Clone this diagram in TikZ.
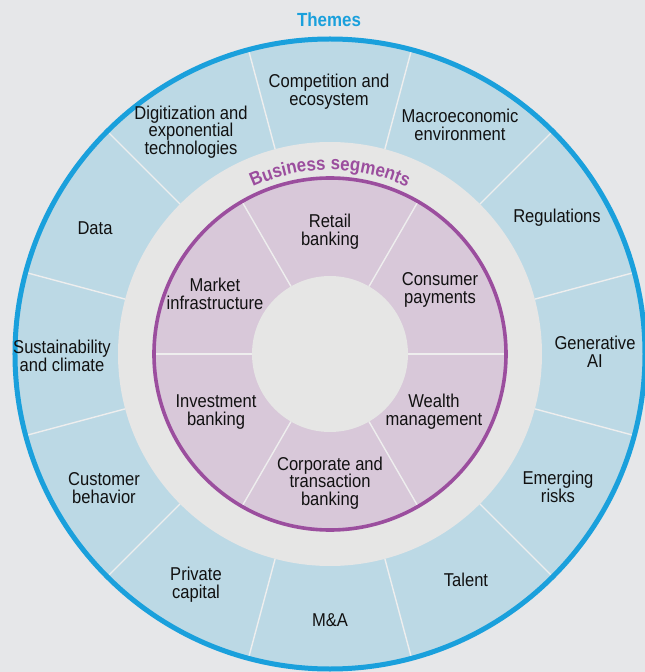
\documentclass[tikz,border=0pt]{standalone}
\usepackage{fontspec}
\setmainfont{Liberation Sans}[FakeStretch=0.89]
\usetikzlibrary{decorations.text}
\definecolor{bgcol}{HTML}{E6E7E9}
\definecolor{themefill}{HTML}{BCD9E5}
\definecolor{themeline}{HTML}{1AA0DC}
\definecolor{ringgray}{HTML}{E6E6E5}
\definecolor{segfill}{HTML}{D8C8D9}
\definecolor{segline}{HTML}{9B4E9E}
\definecolor{divcol}{HTML}{EEEEEE}
\definecolor{txt}{HTML}{111111}
\tikzset{
  lbl/.style={inner sep=0pt, align=center, text=txt, font=\fontsize{18.6}{17.8}\selectfont},
  divider/.style={draw=divcol, line width=1.4pt},
}
\begin{document}
\begin{tikzpicture}[x=1pt,y=1pt]
\useasboundingbox (-330,-318) rectangle (315,354);
\fill[bgcol] (-330,-318) rectangle (315,354);
% themes ring
\fill[themefill] (0,0) circle[radius=315];
\foreach \a in {15,45,...,345} \draw[divider] (\a:212) -- (\a:313);
\draw[themeline, line width=5pt] (0,0) circle[radius=315];
% gray ring
\fill[ringgray] (0,0) circle[radius=212];
% segments
\fill[segfill] (0,0) circle[radius=176];
\foreach \a in {0,60,...,300} \draw[divider] (\a:78) -- (\a:175);
\draw[segline, line width=3.6pt] (0,0) circle[radius=176];
\fill[ringgray] (0,0) circle[radius=78];
% titles
\node[inner sep=0pt, text=themeline, font=\bfseries\fontsize{19}{19}\selectfont] (themes) at (-1,334) {Themes};
\path[decorate, decoration={text along path, text align={center}, text color=segline,
  text={|\bfseries\fontsize{19}{19}\selectfont|Business segments}}]
  (150:184) arc[start angle=150, end angle=30, radius=184];
% theme labels
\node[lbl] (comp) at (-1,262) {Competition and\\ecosystem};
\node[lbl] (macro) at (130,229) {Macroeconomic\\environment};
\node[lbl] (reg) at (227,136) {Regulations};
\node[lbl] (genai) at (265,2) {Generative\\AI};
\node[lbl] (emerg) at (228,-133) {Emerging\\risks};
\node[lbl] (talent) at (136,-226) {Talent};
\node[lbl] (ma) at (0,-266) {M\&A};
\node[lbl] (private) at (-134,-231) {Private\\capital};
\node[lbl] (customer) at (-226,-134) {Customer\\behavior};
\node[lbl] (sustain) at (-268,-2) {Sustainability\\and climate};
\node[lbl] (data) at (-235,126) {Data};
\node[lbl] (digit) at (-139,222) {Digitization and\\exponential\\technologies};
% segment labels
\node[lbl] (retail) at (0,122) {Retail\\banking};
\node[lbl] (consumer) at (110,64) {Consumer\\payments};
\node[lbl] (wealth) at (104,-58) {Wealth\\management};
\node[lbl] (corporate) at (0,-129) {Corporate and\\transaction\\banking};
\node[lbl] (invest) at (-114,-58) {Investment\\banking};
\node[lbl] (market) at (-115,60) {Market\\infrastructure};
\end{tikzpicture}
\end{document}
